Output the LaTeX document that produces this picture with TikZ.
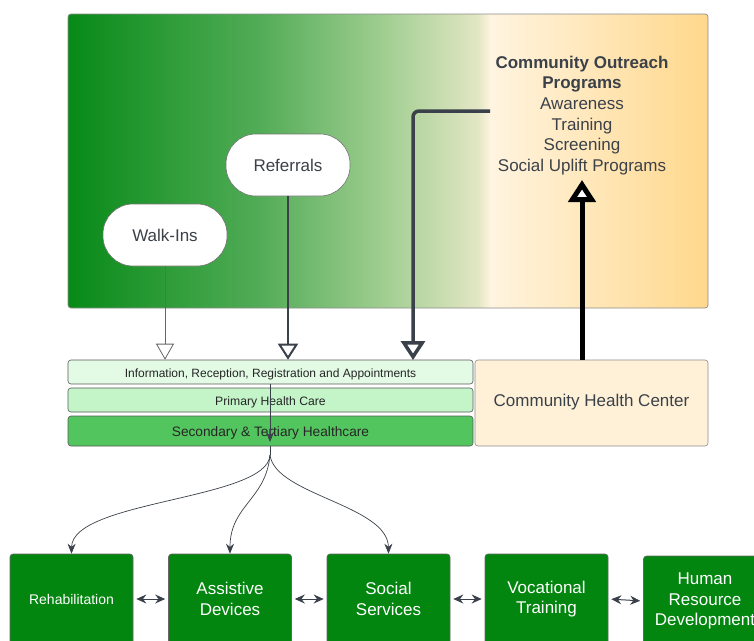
\documentclass[tikz,border=0pt]{standalone}
\usepackage{fontspec}
\setmainfont{Liberation Sans}
\usetikzlibrary{arrows.meta,calc}
\definecolor{txt}{HTML}{3B4149}
\definecolor{lnk}{HTML}{3A414A}
\definecolor{gA}{HTML}{078A17}
\definecolor{gB}{HTML}{52AC57}
\definecolor{gC}{HTML}{A3CF93}
\definecolor{gD}{HTML}{E2E6C3}
\definecolor{oA}{HTML}{FFF4E0}
\definecolor{oB}{HTML}{FFD88C}
\definecolor{infoc}{HTML}{E3FAE5}
\definecolor{primc}{HTML}{C3F5C8}
\definecolor{secc}{HTML}{52C55E}
\definecolor{chcc}{HTML}{FFF1D7}
\definecolor{boxg}{HTML}{03860F}
\pgfdeclarehorizontalshading{bggrad}{100bp}{color(0bp)=(gA); color(25bp)=(gA); color(40bp)=(gB); color(50bp)=(gC); color(57bp)=(gD); color(58bp)=(oA); color(75bp)=(oB); color(100bp)=(oB)}
\tikzset{
  pill/.style={draw=black!55, fill=white, rounded corners=30pt, minimum width=124pt, minimum height=62pt, text=txt, font=\fontsize{17}{20}\selectfont, line width=0.6pt},
  tier/.style={draw=black!65, rounded corners=3pt, minimum width=405pt, text=black!85, line width=0.6pt, inner sep=0pt, text depth=0pt, text height=1.05em},
  gbox/.style={draw=black!60, fill=boxg, rounded corners=3pt, minimum width=123pt, minimum height=90pt, text=white, align=center, font=\fontsize{17}{20.5}\selectfont, line width=0.6pt},
  dbl/.style={{Stealth[length=10pt,width=9pt]}-{Stealth[length=10pt,width=9pt]}, draw=lnk, line width=1pt, shorten <=3pt, shorten >=3pt},
  fan/.style={-{Stealth[length=10pt,width=8pt]}, draw=lnk, line width=0.7pt}
}
\begin{document}
\begin{tikzpicture}[x=1pt,y=-1pt]
\useasboundingbox (0,0) rectangle (754,640);
\clip (0,0) rectangle (754,640);
% background panel
\shade[shading=bggrad, draw=black!45, rounded corners=3pt, line width=0.7pt] (68,14) rectangle (708,308);
\node[pill] (walk) at (165,235) {Walk-Ins};
\node[pill] (ref) at (288,165) {Referrals};
\node[align=center, text=txt, font=\fontsize{17}{20.6}\selectfont] (cop) at (582,115.5)
  {\textbf{Community Outreach}\\\textbf{Programs}\\Awareness\\Training\\Screening\\Social Uplift Programs};
% tiers
\node[tier, fill=infoc, minimum height=24pt, font=\fontsize{12}{14}\selectfont] (info) at (270.5,372) {Information, Reception, Registration and Appointments};
\node[tier, fill=primc, minimum height=24pt, font=\fontsize{12.2}{14}\selectfont] (prim) at (270.5,400) {Primary Health Care};
\node[tier, fill=secc, minimum height=30pt, font=\fontsize{13.7}{15}\selectfont] (sec) at (270.5,431) {Secondary \& Tertiary Healthcare};
\node[draw=black!45, fill=chcc, rounded corners=3pt, minimum width=233pt, minimum height=86pt, text=txt, font=\fontsize{17}{20}\selectfont, line width=0.6pt, text depth=0.45em] (chc) at (591.5,403) {Community Health Center};
% bottom boxes
\node[gbox, font=\fontsize{14}{16}\selectfont] (rehab) at (71.5,599) {Rehabilitation};
\node[gbox] (assist) at (230,599) {Assistive\\Devices};
\node[gbox] (social) at (388.5,599) {Social\\Services};
\node[gbox] (voc) at (546.5,599) {Vocational\\Training};
\node[gbox] (hrd) at (705,601) {Human\\Resource\\Development};
% connectors into info
\draw[draw=black!60, line width=0.8pt, -{Triangle[open, width=18pt, length=16pt, fill=white]}] (walk.south) -- (walk.south |- info.north);
\draw[draw=lnk, line width=2pt, -{Triangle[open, width=20pt, length=16pt, fill=white]}] (ref.south) -- (ref.south |- info.north);
\coordinate (oc) at (490,111);
\coordinate (oin) at (413,360);
\draw[draw=lnk, line width=3.5pt, rounded corners=6pt, -{Triangle[open, width=24pt, length=19pt, fill=white]}] (oc) -| (oin);
\coordinate (cup) at (582,360);
\coordinate (ctop) at (582,180);
\draw[draw=black, line width=5pt, -{Triangle[open, width=27pt, length=22pt, fill=white]}] (cup) -- (ctop);
% central line
\coordinate (ctr) at (270,384);
\coordinate (ctip) at (270,442);
\draw[draw=lnk, line width=0.7pt, -{Stealth[length=10pt,width=8pt]}] (ctr) -- (ctip);
\coordinate (hub) at (270,455);
\draw[draw=lnk, line width=0.7pt] (270,446) -- (hub);
\draw[fan] (hub) .. controls (268,500) and (72,500) .. (rehab.north);
\draw[fan] (hub) .. controls (266,500) and (230,505) .. (assist.north);
\draw[fan] (hub) .. controls (275,495) and (388,505) .. (social.north);
% double arrows
\draw[dbl] (rehab.east) -- (assist.west);
\draw[dbl] (assist.east) -- (social.west);
\draw[dbl] (social.east) -- (voc.west);
\draw[dbl] (voc.east) -- (hrd.west);
\end{tikzpicture}
\end{document}
